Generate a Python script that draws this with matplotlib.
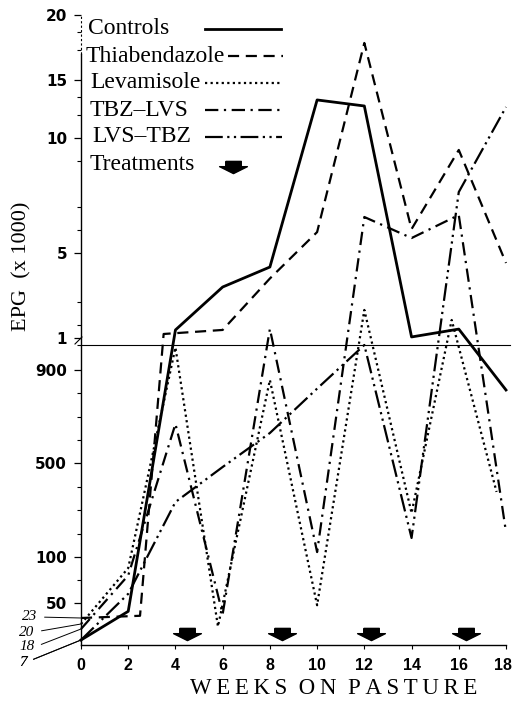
import numpy as np
import matplotlib
matplotlib.use('Agg')
import matplotlib.pyplot as plt
import matplotlib.transforms as mtransforms
from matplotlib.lines import Line2D
from matplotlib.path import Path

W, H = 513, 706

# data (EPG, eggs per gram)
weeks = [0, 2, 4, 6, 8, 10, 12, 14, 16, 18]
controls = [7, 35, 1380, 3400, 4340, 13280, 12760, 1050, 1420, 814]
tbz_weeks = [0, 2.5, 3.5, 6, 8, 10, 12, 14, 16, 18]
thiabendazole = [23, 27, 1190, 1380, 3800, 5910, 17850, 6040, 9480, 4530]
lvs_weeks = [0, 2, 4, 5.8, 8, 10, 12, 14, 15.7, 17.6]
levamisole = [20, 88, 990, 19, 857, 46, 2320, 287, 1850, 377]
tbz_lvs = [18, 80, 668, 30, 1430, 121, 6565, 5650, 6650, 206]
lvs_tbz = [7, 60, 334, 483, 629, 820, 1000, 181, 7650, 12670]
treat_weeks = [4.5, 8.5, 12.3, 16.3]

names = ['Controls', 'Thiabendazole', 'Levamisole', 'TBZ\u2013LVS', 'LVS\u2013TBZ']
xs = [weeks, tbz_weeks, lvs_weeks, weeks, weeks]
ys = [controls, thiabendazole, levamisole, tbz_lvs, lvs_tbz]
styles = [dict(ls='-', lw=2.0),
          dict(ls=(0, (5, 3)), lw=1.6),
          dict(ls=(0, (1, 1.5)), lw=1.6),
          dict(ls=(0, (6, 2.5, 1, 2.5)), lw=1.6),
          dict(ls=(0, (8, 2, 1, 2, 1, 2)), lw=1.6)]

# hand drawn broken axis: value -> pixel row of the original
knot_vals = [0, 7, 18, 20, 23, 50, 100, 500, 900, 1000, 1001, 5000, 10000, 15000, 20000]
knot_px = np.array([645, 640, 629, 624, 618, 603, 557, 463, 370, 345, 338, 253, 138, 80, 15])
knot_pos = 645 - knot_px

def fwd(v):
	return np.interp(v, knot_vals, knot_pos)

def inv(p):
	return np.interp(p, knot_pos, knot_vals)

def px(x, y):
	return x / W, 1 - y / H

serif = ['Liberation Serif', 'DejaVu Serif']
fig = plt.figure(figsize=(W / 100, H / 100), dpi=100)
ax = fig.add_axes([81 / W, (H - 645) / H, 425 / W, 630 / H])
ax.set_yscale('function', functions=(fwd, inv))

for x, y, st in zip(xs, ys, styles):
	ax.plot(x, y, color='black', clip_on=False, **st)

ax.set_xlim(0, 18)
ax.set_ylim(0, 20000)
ax.axhline(1000, xmin=0, xmax=1.01, color='black', lw=0.8, clip_on=False)

# treatment arrows
arrow = Path([(-0.28, 0.22), (0.28, 0.22), (0.28, 0.03), (0.5, 0.03), (0, -0.22),
			  (-0.5, 0.03), (-0.28, 0.03), (-0.28, 0.22)])
blend = mtransforms.blended_transform_factory(ax.transData, ax.transAxes)
ax.plot(treat_weeks, [0.018] * len(treat_weeks), ls='none', marker=arrow, ms=20,
		color='black', transform=blend, clip_on=False)

# ticks
ax.set_xticks(range(0, 19, 2))
ax.set_yticks([50, 100, 500, 900, 1001, 5000, 10000, 15000, 20000])
ax.set_yticklabels(['50', '100', '500', '900', '1', '5', '10', '15', '20'])
ax.set_yticks([75, 200, 300, 400, 600, 700, 800, 1000, 1600, 2700, 6000, 7000, 9000,
			   12000, 13500, 17300, 18700], minor=True)
ax.tick_params(axis='y', which='major', length=5, width=0.9, pad=5)
ax.tick_params(axis='y', which='minor', length=3, width=0.8)
ax.tick_params(axis='x', length=3, width=0.8, pad=6)
for lab in ax.get_yticklabels():
	lab.set_fontfamily('DejaVu Sans')
	lab.set_fontweight('bold')
	lab.set_fontsize(11)
for lab in ax.get_xticklabels():
	lab.set_fontfamily('Liberation Sans')
	lab.set_fontweight('bold')
	lab.set_fontsize(11.5)
last = ax.get_xticklabels()[-1]
last.set_transform(last.get_transform() + mtransforms.ScaledTranslation(-3 / 100, 0, fig.dpi_scale_trans))

for s in ['top', 'right']:
	ax.spines[s].set_visible(False)
ax.spines['left'].set_bounds(0, 17000)
ax.spines['left'].set_linewidth(1.0)
ax.spines['bottom'].set_linewidth(1.0)
ax.plot([0, 0], [17000, 20000], color='black', ls=(0, (2, 2)), lw=0.8, clip_on=False)
fig.add_artist(Line2D([75 / W, 82 / W], [1 - 344 / H, 1 - 337 / H], color='black', lw=0.8))

# starting counts at week 0
for lab, val, lx, ly in [('23', thiabendazole[0], 30, 617), ('20', levamisole[0], 27, 632),
						 ('18', tbz_lvs[0], 27, 647), ('7', controls[0], 23, 662),
						 ('7', lvs_tbz[0], 23, 662)]:
	ax.annotate(lab, xy=(0, val), xytext=(lx, H - ly), textcoords='figure pixels',
				ha='center', va='center', family=serif, style='italic', fontsize=11,
				annotation_clip=False,
				arrowprops=dict(arrowstyle='-', lw=0.7, color='black', shrinkA=3,
								shrinkB=0, relpos=(1, 0.5)))

# legend, drawn by hand: text first, line sample after
rows = [(88, 29, 205, 281), (86, 56, 228, 283), (90, 83, 205, 280),
		(90, 110, 205, 282), (92, 137, 205, 282)]
for name, st, (tx, ty, l0, l1) in zip(names, styles, rows):
	fig.text(*px(tx, ty), name, family=serif, fontsize=17, va='center', ha='left')
	fig.add_artist(Line2D([l0 / W, l1 / W], [1 - ty / H, 1 - ty / H], color='black', **st))
fig.text(*px(90, 165), 'Treatments', family=serif, fontsize=17, va='center', ha='left')
fig.add_artist(Line2D([233 / W], [1 - 167 / H], ls='none', marker=arrow, ms=20, color='black'))

fig.text(*px(22, 266), 'EPG  (x 1000)', family=serif, fontsize=16, rotation=90,
		 ha='center', va='center')
fig.text(*px(334, 688), '\u2009'.join('WEEKS') + '  ' + '\u2009'.join('ON') + '  '
		 + '\u2009'.join('PASTURE'), family=serif, fontsize=16.5, ha='center', va='center')

fig.savefig('out.png', dpi=100, facecolor='white')
